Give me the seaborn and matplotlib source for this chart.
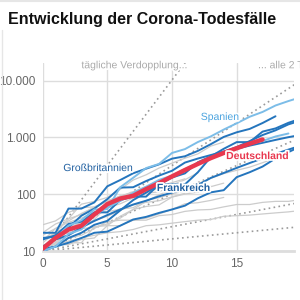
import numpy as np
import pandas as pd
import matplotlib
matplotlib.use("Agg")
import matplotlib.pyplot as plt
import matplotlib.patheffects as pe
from matplotlib.ticker import FixedLocator, FuncFormatter
import seaborn as sns

# Todesfaelle seit dem Tag mit mindestens 10 Toten (Tag 0)
deutschland = [11, 17, 24, 28, 44, 67, 84, 94, 123, 157, 206, 267, 342, 433, 533, 645, 775, 920]
spanien = [10, 17, 28, 35, 54, 55, 133, 195, 289, 342, 533, 623, 830, 1043, 1375, 1772, 2311, 2808, 3647, 4365, 5138]
grossbritannien = [21, 21, 56, 56, 72, 138, 178, 234, 282, 336, 423, 466, 580, 761, 1021, 1231, 1411, 1793, 2357]
frankreich = [16, 19, 30, 33, 48, 48, 79, 91, 91, 149, 149, 149, 244, 451, 563, 676, 862, 1102, 1333, 1698, 1997]
italien = [10, 12, 17, 21, 29, 34, 52, 79, 107, 148, 197, 233, 366, 463, 631, 827, 827, 1266, 1441, 1809, 2158]
usa = [11, 12, 14, 17, 21, 22, 28, 36, 40, 47, 54, 63, 85, 108, 118, 200, 244, 307, 427, 552, 706]
china = [17, 18, 26, 42, 56, 82, 131, 133, 171, 213, 259, 361, 425, 490, 562, 632, 717, 804, 904, 1011, 1111]
iran = [12, 16, 19, 26, 34, 43, 54, 66, 77, 92, 107, 124, 145, 194, 237, 291, 354, 429, 514, 611, 724]
niederlande = [10, 12, 20, 24, 43, 58, 76, 106, 136, 179, 213, 276, 356, 434, 546, 639, 771, 864, 1039, 1173]

grau = {
    "Belgien": [14, 21, 37, 67, 75, 88, 122, 178, 220, 289, 353, 431, 513, 705, 828],
    "Schweiz": [11, 14, 14, 14, 27, 28, 41, 54, 75, 98, 120, 122, 153, 191, 231, 264, 300, 359, 433, 488],
    "Schweden": [16, 20, 21, 25, 36, 62, 77, 105, 105, 110, 146, 180, 239],
    "Österreich": [16, 21, 28, 30, 49, 58, 68, 86, 108, 128, 146],
    "Brasilien": [15, 25, 34, 46, 59, 77, 92, 111, 136, 159, 201, 240],
    "Türkei": [21, 30, 37, 44, 59, 75, 92, 108, 131, 168, 214],
    "Portugal": [12, 14, 23, 33, 43, 60, 76, 100, 119, 140, 160, 187],
    "Kanada": [12, 19, 21, 25, 26, 30, 38, 54, 61, 65, 89, 101, 109, 139],
    "Indonesien": [19, 25, 32, 38, 48, 49, 55, 58, 78, 87, 102, 114, 122, 136, 157],
    "Philippinen": [12, 17, 17, 19, 25, 33, 35, 35, 38, 45, 54, 68, 71, 78, 88],
    "Dänemark": [13, 13, 24, 32, 34, 41, 52, 65, 72, 77, 90, 104],
    "Ecuador": [29, 34, 48, 58, 60, 75, 93, 98, 120],
    "Südkorea": [12, 13, 13, 16, 17, 28, 28, 35, 35, 42, 44, 50, 53, 54, 60, 66, 66, 72, 75, 75, 81],
    "Japan": [10, 12, 15, 17, 19, 21, 22, 24, 28, 29, 31, 33, 35, 36, 41, 42, 43, 45, 47, 49, 52],
}
dunkelblau = {"Großbritannien": grossbritannien, "Frankreich": frankreich, "Italien": italien,
              "USA": usa, "China": china, "Iran": iran}
hellblau = {"Spanien": spanien, "Niederlande": niederlande}

verdopplung_tage = [1, 2, 3, 7, 14]
y_ticks = [10, 100, 1000, 10000]
x_ticks = [0, 5, 10, 15]

C_DARK = "#2475bd"
C_LIGHT = "#7cbde8"
C_RED = "#e8384f"
C_GRAY = "#cccccc"


def long_df(series):
    rows = []
    for name, vals in series.items():
        for d, v in enumerate(vals):
            rows.append((name, d, v))
    return pd.DataFrame(rows, columns=["land", "tag", "tote"])


sns.set_style("white")
plt.rcParams["font.family"] = ["Liberation Sans", "DejaVu Sans"]

fig = plt.figure(figsize=(3, 3), dpi=100)
ax = fig.add_axes([0.142, 0.163, 0.838, 0.627])

# Verdopplungslinien
tage = np.linspace(0, 20, 200)
ref = pd.DataFrame([(t, d, 10 * 2 ** (d / t)) for t in verdopplung_tage for d in tage],
                   columns=["T", "tag", "tote"])
for t in verdopplung_tage:
    sns.lineplot(data=ref[ref["T"] == t], x="tag", y="tote", ax=ax, color="#9a9a9a",
                 lw=1.2, linestyle=(0, (1, 2)), zorder=2)

sns.lineplot(data=long_df(grau), x="tag", y="tote", units="land", estimator=None,
             ax=ax, color=C_GRAY, lw=0.9, zorder=3)
sns.lineplot(data=long_df(dunkelblau), x="tag", y="tote", units="land", estimator=None,
             ax=ax, color=C_DARK, lw=1.4, zorder=4)
sns.lineplot(data=long_df(hellblau), x="tag", y="tote", units="land", estimator=None,
             ax=ax, color=C_LIGHT, lw=1.4, zorder=5)
sns.lineplot(data=long_df({"Deutschland": deutschland}), x="tag", y="tote",
             ax=ax, color=C_RED, lw=3.2, zorder=6)

ax.set_yscale("log")
ax.set_xlim(0, 19.43)
ax.set_ylim(10, 20400)
ax.yaxis.set_major_locator(FixedLocator(y_ticks))
ax.yaxis.set_minor_locator(FixedLocator([]))
ax.yaxis.set_major_formatter(FuncFormatter(lambda v, p: f"{int(v):,}".replace(",", ".")))
ax.set_xticks(x_ticks)
ax.grid(True, color="#dddddd", lw=1)
for s in ["top", "right", "left"]:
    ax.spines[s].set_visible(False)
ax.spines["bottom"].set_color("#dddddd")
ax.spines["bottom"].set_linewidth(2)
ax.tick_params(length=0, labelsize=8.5, labelcolor="#666666")
ax.tick_params(axis="y", pad=5)
ax.tick_params(axis="x", pad=5)
ax.set_xlabel("")
ax.set_ylabel("")

halo = [pe.withStroke(linewidth=2.5, foreground="white")]
ax.text(13.7, 2290, "Spanien", color="#4aa3df", fontsize=7.5, ha="center", va="center",
        path_effects=halo, zorder=10)
ax.text(4.28, 289, "Großbritannien", color="#1f5fa0", fontsize=7.5, ha="center", va="center",
        path_effects=halo, zorder=10)
ax.text(16.6, 470, "Deutschland", color=C_RED, fontsize=7.5, fontweight="bold", ha="center",
        va="center", path_effects=halo, zorder=10)
ax.text(10.9, 129, "Frankreich", color="#1f5fa0", fontsize=7.5, fontweight="bold", ha="center",
        va="center", path_effects=halo, zorder=10)
ax.text(3.0, 18600, "tägliche Verdopplung...", color="#aaaaaa", fontsize=7.5, ha="left",
        va="center", path_effects=halo, zorder=10)
ax.text(16.65, 18600, "... alle 2 Tage", color="#aaaaaa", fontsize=7.5, ha="left",
        va="center", path_effects=halo, zorder=10, clip_on=False)

fig.text(0.027, 0.935, "Entwicklung der Corona-Todesfälle", fontsize=11.5,
         fontweight="bold", color="#111111", ha="left", va="center")
fig.add_artist(plt.Line2D([0.007, 0.007], [0, 0.9], color="#e6e6e6", lw=1))
fig.add_artist(plt.Line2D([0, 1], [0.997, 0.997], color="#e6e6e6", lw=1.5))

fig.savefig("out.png", dpi=100)
